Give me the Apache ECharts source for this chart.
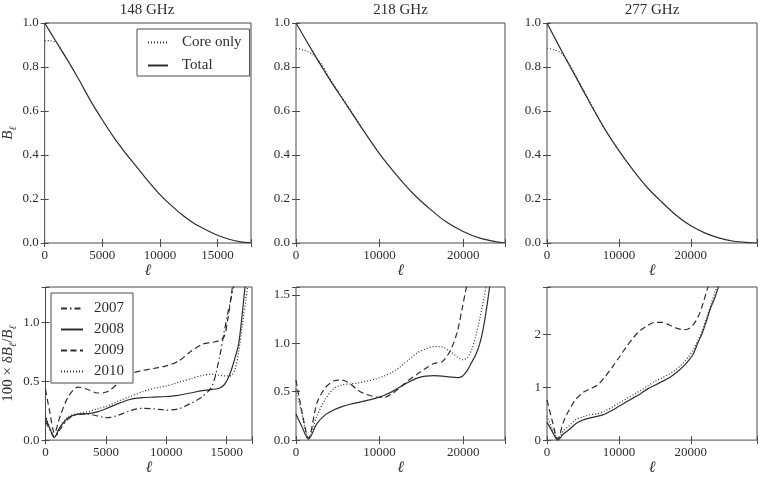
<!DOCTYPE html>
<html>
<head>
<meta charset="utf-8">
<script src="https://cdn.jsdelivr.net/npm/echarts@6/dist/echarts.min.js"></script>
<style>
  html, body { margin: 0; background: #fff; }
  #main { width: 761px; height: 477px; }
</style>
</head>
<body>
<div id="main"></div>
<script>
// ---- top row: beam B_ell ----
const ellTop148 = [0, 1000, 2000, 3000, 4000, 5000, 6000, 7000, 8000, 9000, 10000, 11000, 12000, 13000, 14000, 15000, 16000, 17000, 17900]
const total148 = [1.0, 0.915, 0.83, 0.74, 0.645, 0.56, 0.48, 0.41, 0.345, 0.28, 0.22, 0.17, 0.125, 0.088, 0.06, 0.035, 0.017, 0.005, 0.0]
const ellCore148 = [0, 500, 1000, 1500, 2000]
const core148 = [0.92, 0.919, 0.912, 0.872, 0.83]

const ellTop218 = [0, 2000, 4000, 6000, 8000, 10000, 12000, 14000, 16000, 18000, 20000, 22000, 24000, 25000]
const total218 = [1.0, 0.87, 0.745, 0.63, 0.515, 0.405, 0.31, 0.225, 0.155, 0.095, 0.052, 0.022, 0.005, 0.0]
const ellCore218 = [0, 1000, 2000, 3000, 4000, 5000, 6000, 7000, 8000]
const core218 = [0.885, 0.876, 0.857, 0.815, 0.752, 0.691, 0.634, 0.576, 0.516]

const ellTop277 = [0, 2000, 4000, 6000, 8000, 10000, 12000, 14000, 16000, 18000, 20000, 22000, 24000, 26000, 28000, 29200]
const total277 = [1.0, 0.875, 0.755, 0.635, 0.52, 0.42, 0.33, 0.25, 0.185, 0.125, 0.078, 0.045, 0.022, 0.008, 0.002, 0.0]
const ellCore277 = [0, 1000, 2000, 3000, 4000, 5000, 6000, 7000, 8000]
const core277 = [0.885, 0.878, 0.862, 0.82, 0.76, 0.699, 0.638, 0.578, 0.52]

// ---- bottom row: 100 x dB/B per season ----
const ellBot148 = [0, 350, 750, 1200, 1900, 2700, 3500, 4300, 5100, 6000, 7000, 8000, 9000, 10000, 11000, 12000, 13000, 13800, 14400, 14800, 15100, 15400, 15700, 16000, 16300, 16600, 16900, 17100]
const d2007_148 = [0.16, 0.09, 0.02, 0.09, 0.18, 0.22, 0.22, 0.205, 0.19, 0.21, 0.25, 0.27, 0.265, 0.255, 0.265, 0.31, 0.37, 0.46, 0.70, 0.92, 1.08, 1.22, 1.36, null, null, null, null, null]
const d2008_148 = [0.19, 0.10, 0.025, 0.11, 0.19, 0.22, 0.225, 0.24, 0.27, 0.31, 0.345, 0.36, 0.365, 0.37, 0.38, 0.40, 0.42, 0.43, 0.44, 0.47, 0.52, 0.60, 0.70, 0.82, 1.08, 1.38, null, null]
const d2009_148 = [0.43, 0.24, 0.06, 0.20, 0.37, 0.45, 0.43, 0.40, 0.41, 0.48, 0.56, 0.59, 0.61, 0.63, 0.67, 0.75, 0.815, 0.83, 0.845, 0.88, 1.03, 1.24, 1.5, null, null, null, null, null]
const d2010_148 = [0.21, 0.11, 0.03, 0.11, 0.20, 0.225, 0.24, 0.265, 0.29, 0.33, 0.37, 0.41, 0.44, 0.46, 0.49, 0.52, 0.55, 0.56, 0.55, 0.545, 0.545, 0.55, 0.6, 0.75, 0.97, 1.2, 1.42, null]

const ellBot218 = [0, 700, 1500, 2500, 3500, 4500, 5500, 6500, 7500, 8500, 9500, 10500, 11500, 12500, 13500, 14500, 15500, 16500, 17500, 18500, 19300, 19900, 20500, 21000, 21500, 22000, 22500, 23000, 23500, 24000, 25000]
const d2008_218 = [0.27, 0.14, 0.01, 0.17, 0.26, 0.31, 0.345, 0.37, 0.39, 0.41, 0.43, 0.46, 0.50, 0.55, 0.60, 0.64, 0.66, 0.665, 0.66, 0.65, 0.645, 0.66, 0.72, 0.80, 0.88, 1.0, 1.2, 1.48, 1.8, null, null]
const d2009_218 = [0.62, 0.30, 0.02, 0.38, 0.54, 0.61, 0.62, 0.58, 0.51, 0.47, 0.445, 0.44, 0.48, 0.55, 0.62, 0.68, 0.74, 0.79, 0.81, 0.93, 1.12, 1.37, 1.63, null, null, null, null, null, null, null, null]
const d2010_218 = [0.52, 0.27, 0.02, 0.25, 0.42, 0.53, 0.57, 0.58, 0.59, 0.61, 0.63, 0.66, 0.70, 0.76, 0.83, 0.90, 0.94, 0.965, 0.96, 0.91, 0.86, 0.83, 0.85, 0.93, 1.07, 1.26, 1.47, 1.72, null, null, null]

const ellBot277 = [0, 700, 1500, 2300, 3000, 4000, 5000, 6000, 7000, 8000, 9000, 10000, 11000, 12000, 13000, 14000, 15000, 16000, 17000, 18000, 19000, 19700, 20300, 21000, 21600, 22200, 22800, 23400, 24000, 25000]
const d2008_277 = [0.34, 0.17, 0.0, 0.12, 0.19, 0.31, 0.38, 0.42, 0.45, 0.49, 0.56, 0.64, 0.72, 0.80, 0.88, 0.97, 1.04, 1.11, 1.18, 1.28, 1.40, 1.51, 1.62, 1.85, 2.03, 2.27, 2.52, 2.72, 2.98, null]
const d2009_277 = [0.76, 0.38, 0.02, 0.35, 0.55, 0.77, 0.90, 0.97, 1.04, 1.19, 1.37, 1.56, 1.76, 1.94, 2.08, 2.17, 2.23, 2.23, 2.18, 2.12, 2.09, 2.11, 2.18, 2.33, 2.55, 2.82, 3.1, null, null, null]
const d2010_277 = [0.46, 0.23, 0.03, 0.18, 0.26, 0.39, 0.44, 0.48, 0.50, 0.55, 0.62, 0.70, 0.78, 0.86, 0.94, 1.03, 1.11, 1.18, 1.25, 1.34, 1.47, 1.58, 1.70, 1.89, 2.08, 2.32, 2.57, 2.82, 3.05, null]

const titles = ['148 GHz', '218 GHz', '277 GHz']
const xMaxes = [17900, 25000, 29200, 17100, 25000, 29200]
const xSteps = [5000, 10000, 10000, 5000, 10000, 10000]
const yMaxes = [1, 1, 1, 1.3, 1.58, 2.9]
const ySteps = [0.2, 0.2, 0.2, 0.5, 0.5, 1]
const yDecimals = [1, 1, 1, 1, 1, 0]

const font = 'Liberation Serif'
const ink = '#2e2e2e'
const frame = '#4a4a4a'

const grids = [
  { left: 43, top: 23, width: 208, height: 220 },
  { left: 296, top: 23, width: 209, height: 220 },
  { left: 547, top: 23, width: 210, height: 220 },
  { left: 43, top: 287, width: 209, height: 162 },
  { left: 296, top: 287, width: 209, height: 162 },
  { left: 547, top: 287, width: 210, height: 162 },
].map(g => ({ ...g, show: true, borderColor: frame, borderWidth: 1, backgroundColor: 'transparent' }))

const dashes = {
  solid: 'solid',
  dotted: [1, 2],
  dashed: [6, 3.5],
  dashdot: [6, 3, 1.5, 3],
}

function pairs(xs, ys) {
  return xs.map((x, i) => [x, ys[i]])
}

function tickFmt(step, dec) {
  return (v) => (Math.abs(v / step - Math.round(v / step)) < 1e-6 ? v.toFixed(dec) : '')
}

const xAxis = []
const yAxis = []
grids.forEach((g, i) => {
  const tick = { inside: true, length: 4, lineStyle: { color: frame } }
  xAxis.push({
    gridIndex: i, type: 'value', min: 0, max: xMaxes[i], interval: xSteps[i],
    axisLine: { show: false }, splitLine: { show: false }, axisTick: tick,
    axisLabel: { formatter: tickFmt(xSteps[i], 0), fontFamily: font, fontSize: 13, color: ink, margin: 6 },
    name: 'ℓ', nameLocation: 'middle', nameGap: 18,
    nameTextStyle: { fontFamily: font, fontSize: 16, fontStyle: 'italic', color: ink },
  })
  xAxis.push({
    gridIndex: i, type: 'value', position: 'top', min: 0, max: xMaxes[i], interval: xSteps[i],
    axisLine: { show: false }, splitLine: { show: false }, axisTick: tick, axisLabel: { show: false },
  })
  const y = {
    gridIndex: i, type: 'value', min: 0, max: yMaxes[i], interval: ySteps[i],
    axisLine: { show: false }, splitLine: { show: false }, axisTick: tick,
    axisLabel: { formatter: tickFmt(ySteps[i], yDecimals[i]), fontFamily: font, fontSize: 13, color: ink, margin: 6 },
  }
  const rich = {
    n: { fontFamily: font, fontSize: 15, color: ink, lineHeight: 20 },
    i: { fontFamily: font, fontSize: 15, fontStyle: 'italic', color: ink, lineHeight: 20 },
    s: { fontFamily: font, fontSize: 10, fontStyle: 'italic', color: ink, lineHeight: 12, verticalAlign: 'bottom' },
  }
  if (i === 0) {
    y.name = '{i|B}{s|ℓ}'
    y.nameLocation = 'middle'
    y.nameGap = 20
    y.nameTextStyle = { rich }
  }
  if (i === 3) {
    y.name = '{n|100 × δ}{i|B}{s|ℓ}{n|/}{i|B}{s|ℓ}'
    y.nameLocation = 'middle'
    y.nameGap = 27
    y.nameTextStyle = { rich }
  }
  yAxis.push(y)
  yAxis.push({
    gridIndex: i, type: 'value', position: 'right', min: 0, max: yMaxes[i], interval: ySteps[i],
    axisLine: { show: false }, splitLine: { show: false }, axisTick: tick, axisLabel: { show: false },
  })
})

function line(name, panel, xs, ys, dash) {
  return {
    name, type: 'line', xAxisIndex: panel * 2, yAxisIndex: panel * 2,
    data: pairs(xs, ys), symbol: 'none', smooth: 0.3, clip: true,
    lineStyle: { color: ink, width: 1.2, type: dashes[dash] },
    itemStyle: { color: ink },
    animation: false,
  }
}

const series = [
  line('Core only', 0, ellCore148, core148, 'dotted'),
  line('Total', 0, ellTop148, total148, 'solid'),
  line('Core only', 1, ellCore218, core218, 'dotted'),
  line('Total', 1, ellTop218, total218, 'solid'),
  line('Core only', 2, ellCore277, core277, 'dotted'),
  line('Total', 2, ellTop277, total277, 'solid'),
  line('2007', 3, ellBot148, d2007_148, 'dashdot'),
  line('2008', 3, ellBot148, d2008_148, 'solid'),
  line('2009', 3, ellBot148, d2009_148, 'dashed'),
  line('2010', 3, ellBot148, d2010_148, 'dotted'),
  line('2008', 4, ellBot218, d2008_218, 'solid'),
  line('2009', 4, ellBot218, d2009_218, 'dashed'),
  line('2010', 4, ellBot218, d2010_218, 'dotted'),
  line('2008', 5, ellBot277, d2008_277, 'solid'),
  line('2009', 5, ellBot277, d2009_277, 'dashed'),
  line('2010', 5, ellBot277, d2010_277, 'dotted'),
]

const legendBase = {
  orient: 'vertical', selectedMode: false, backgroundColor: '#fff',
  borderColor: frame, borderWidth: 1, borderRadius: 0,
  textStyle: { fontFamily: font, fontSize: 15, color: ink },
  // hide the symbol that echarts puts in the middle of a line icon
  itemStyle: { color: 'transparent', borderColor: 'transparent', borderWidth: 0, opacity: 0 },
}

const option = {
  animation: false,
  backgroundColor: '#fff',
  grid: grids,
  xAxis,
  yAxis,
  series,
  legend: [
    {
      ...legendBase, data: ['Core only', 'Total'], left: 137, top: 29,
      itemWidth: 20, itemHeight: 12, itemGap: 8, padding: [6, 8, 3, 10],
      textStyle: { ...legendBase.textStyle, padding: [0, 0, 0, 9] },
    },
    {
      ...legendBase, data: ['2007', '2008', '2009', '2010'], left: 51, top: 293,
      itemWidth: 22, itemHeight: 12, itemGap: 6, padding: [8, 9, 4, 9],
      textStyle: { ...legendBase.textStyle, padding: [0, 0, 0, 6] },
    },
  ],
  graphic: titles.map((t, i) => ({
    type: 'text',
    x: grids[i].left + grids[i].width / 2,
    y: 10,
    style: { text: t, font: '15px "Liberation Serif"', fill: ink, align: 'center', verticalAlign: 'middle', textAlign: 'center', textVerticalAlign: 'middle' },
  })),
}

function initChart() {
  const chart = echarts.init(document.getElementById('main'))
  chart.setOption(option)
}
initChart()
</script>
</body>
</html>
